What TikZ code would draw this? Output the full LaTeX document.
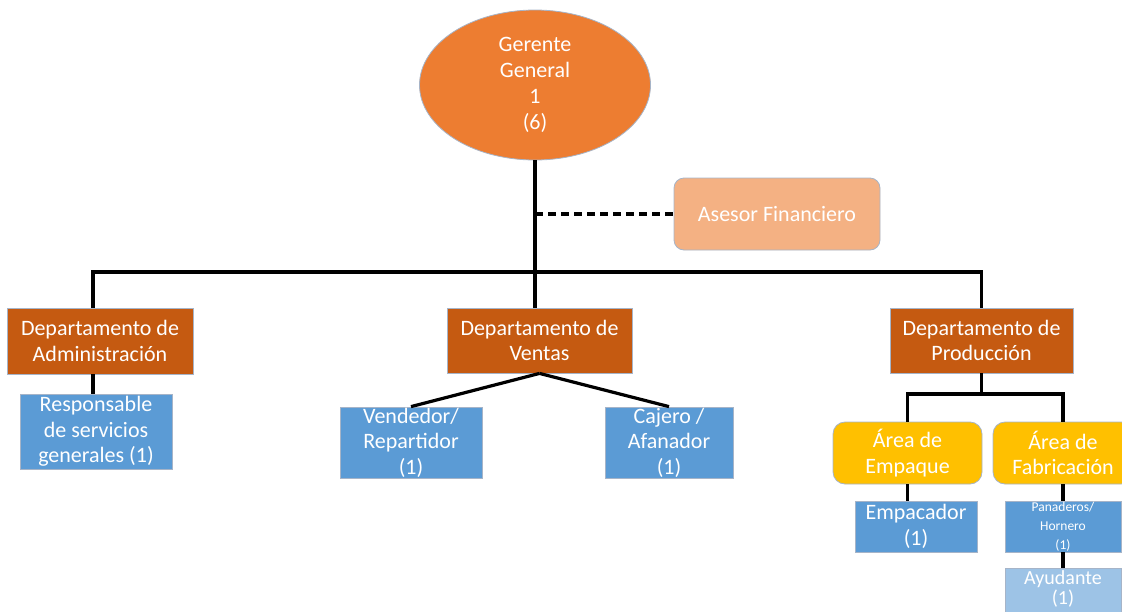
\documentclass[tikz,border=0pt]{standalone}
\usepackage{fontspec}
\setmainfont{Carlito}
\usetikzlibrary{shapes.geometric}
\definecolor{ggorange}{HTML}{ED7D31}
\definecolor{deptbrown}{HTML}{C55A11}
\definecolor{asesorpeach}{HTML}{F4B183}
\definecolor{staffblue}{HTML}{5B9BD5}
\definecolor{areayellow}{HTML}{FFC000}
\definecolor{lightblue}{HTML}{9DC3E6}
\definecolor{edgegray}{HTML}{A6B4C8}
\tikzset{
  box/.style={draw=edgegray, line width=0.8pt, text=white, align=center, inner sep=0pt,
    font=\fontsize{22}{25.5}\selectfont},
  dept/.style={box, fill=deptbrown, minimum width=185pt, minimum height=65pt},
  staff/.style={box, fill=staffblue},
  area/.style={box, fill=areayellow, rounded corners=12pt, minimum width=149pt, minimum height=62pt},
  link/.style={line width=3.2pt, black},
}
\begin{document}
\begin{tikzpicture}[x=1pt,y=-1pt]
\useasboundingbox (0,0) rectangle (1122,611);
\clip (0,0) rectangle (1122,611);
% top
\node[box, ellipse, fill=ggorange, minimum width=231pt, minimum height=150pt, font=\fontsize{22}{26}\selectfont] (gg) at (535,85) {Gerente\\General\\1\\(6)};
\node[box, fill=asesorpeach, rounded corners=10pt, minimum width=206pt, minimum height=72pt] (ase) at (777,214) {Asesor Financiero};
% departments
\node[dept, minimum width=186pt, minimum height=66pt] (adm) at (100,341) {Departamento de\\Administración};
\node[dept] (ven) at (539.5,340.5) {Departamento de\\Ventas};
\node[dept, minimum width=183pt] (prod) at (981.5,340.5) {Departamento de\\Producción};
% staff
\node[staff, minimum width=152pt, minimum height=75pt] (resp) at (96,431.5) {Responsable\\de servicios\\generales (1)};
\node[staff, minimum width=142pt, minimum height=71pt] (vend) at (411,442.5) {Vendedor/\\Repartidor\\(1)};
\node[staff, minimum width=128pt, minimum height=71pt] (caj) at (669,442.5) {Cajero /\\Afanador\\(1)};
% production areas
\node[area] (emq) at (907.5,453) {Área de\\Empaque};
\node[area, minimum width=140pt] (fab) at (1063,453) {Área de\\Fabricación};
\node[staff, minimum width=122pt, minimum height=51pt] (emp) at (916,526.5) {Empacador\\(1)};
\node[staff, minimum width=116pt, minimum height=51pt, font=\fontsize{13.5}{19}\selectfont] (pan) at (1063,526.5) {Panaderos/\\Hornero\\(1)};
\node[staff, fill=lightblue, minimum width=116pt, minimum height=72pt, anchor=north] (ayu) at (1063,568) {};
\node[text=white, font=\fontsize{20}{20}\selectfont, align=center, anchor=north, inner sep=0pt] (ayut) at (1063,570) {Ayudante\\(1)};
% junctions
\coordinate (j) at (535,272);
\coordinate (pj) at (981.5,394);
\coordinate (admtop) at (93,308);
\coordinate (admbot) at (93,374);
% connectors
\draw[link] (gg.south) -- (gg.south |- ven.north);
\draw[link, dashed, dash pattern=on 8pt off 5pt] (gg.south |- ase.west) -- (ase.west);
\draw[link] (admtop) |- (j) -| (prod.north);
\draw[link] (admbot) -- (admbot |- resp.north);
\draw[link] (ven.south) -- (vend.north);
\draw[link] (ven.south) -- (caj.north);
\draw[link] (prod.south) -- (pj);
\draw[link] (emq.north) |- (pj) -| (fab.north);
\draw[link] (emq.south) -- (emq.south |- emp.north);
\draw[link] (fab.south) -- (pan.north);
\draw[link] (pan.south) -- (ayu.north);
\end{tikzpicture}
\end{document}
